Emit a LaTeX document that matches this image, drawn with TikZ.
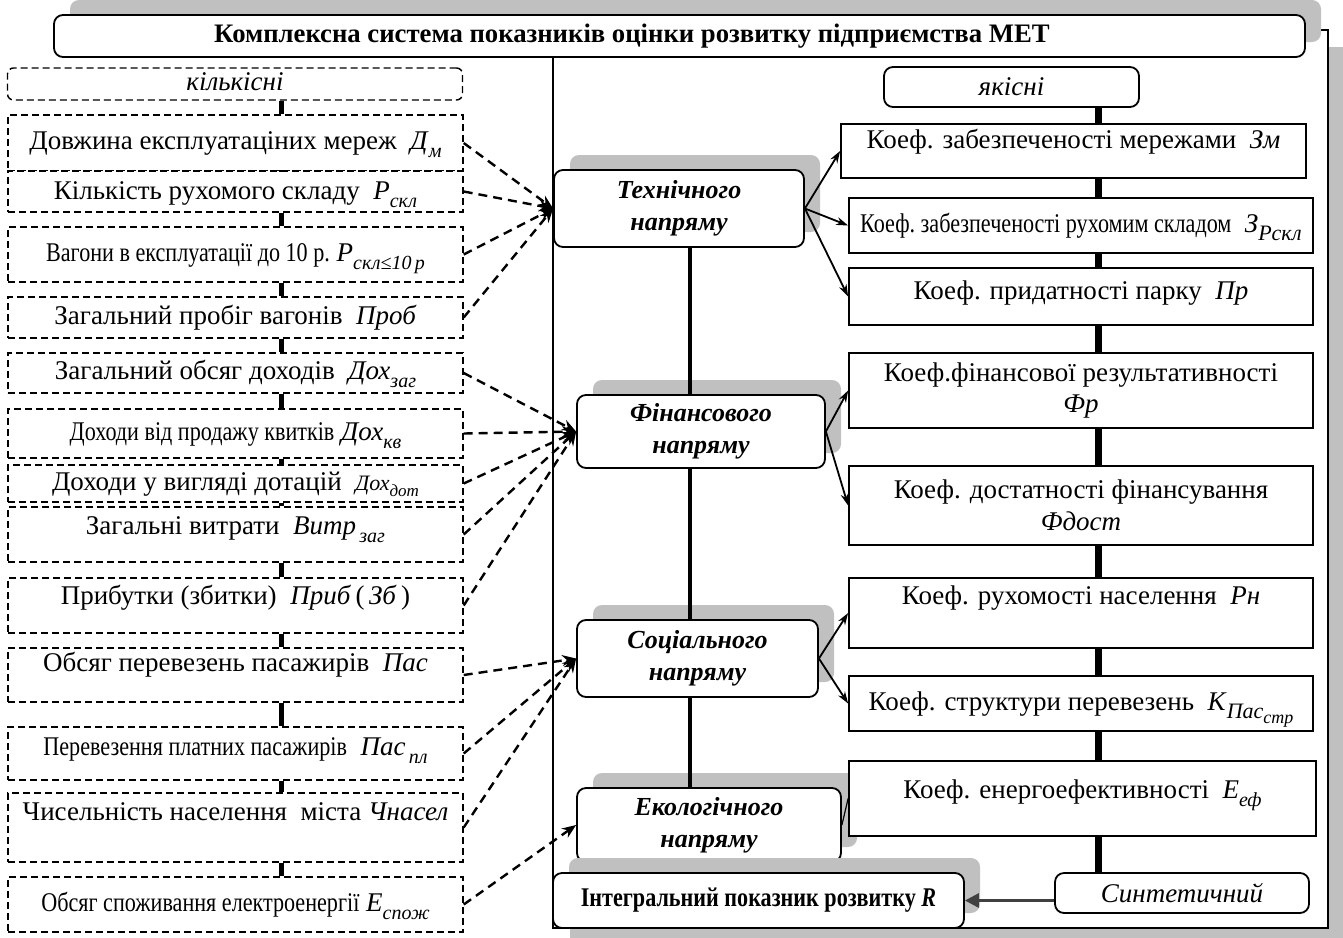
\documentclass[tikz,border=0pt]{standalone}
\usepackage{fontspec}
\setmainfont{Liberation Serif}
\newfontfamily\cnd[FakeStretch=0.82]{Liberation Serif}
\usetikzlibrary{arrows.meta,shadows}
\definecolor{shade}{RGB}{192,192,192}
\newcommand{\pok}[2]{\textit{#1}\raisebox{-0.3em}{\fontsize{20}{20}\selectfont\itshape #2}}

\begin{document}
\begin{tikzpicture}[x=1pt,y=-1pt,
  font=\fontsize{27}{32}\selectfont,
  shd/.style={drop shadow={shadow xshift=16pt,shadow yshift=15pt,fill=shade,opacity=1}},
  rbox/.style={draw,line width=1.8pt,rounded corners=9pt,fill=white,inner sep=0pt},
  qbox/.style={draw,line width=1.4pt,dash pattern=on 7pt off 4pt,fill=white,
               inner sep=0pt,minimum width=455,text height=19,text depth=#1},
  qbox/.default=6,
  kbox/.style={draw,line width=1.8pt,fill=white,inner sep=0pt,minimum width=464,
               text height=19,text depth=#1},
  kbox/.default=6,
  kbox2/.style={draw,line width=1.8pt,fill=white,inner sep=0pt,minimum width=464,align=center},
  dirbox/.style={rbox,shd,font=\fontsize{26}{32}\selectfont\bfseries\itshape,align=center},
  darr/.style={line width=2.4pt,dash pattern=on 9pt off 6pt,-{Stealth[length=14pt,width=11pt]}},
  sarr/.style={line width=1.8pt,-{Stealth[length=12pt,width=8pt]}},
  ]

\useasboundingbox (0,0) rectangle (1343,937);

% frame and title
\node[draw,line width=1.2pt,fill=white,minimum width=775,minimum height=898,inner sep=0pt,
      drop shadow={shadow xshift=17pt,shadow yshift=-17pt,fill=shade,opacity=1}] (frm) at (940.5,479) {};
\node[rbox,shd,minimum width=1251,minimum height=42,font=\fontsize{26.7}{31}\selectfont\bfseries] (title) at (679.5,36)
  {Комплексна система показників оцінки розвитку підприємства МЕТ\hspace*{95pt}};

% quantitative (left)
\node[qbox,rounded corners=6pt,minimum height=32] (q0) at (235,84) {\textit{кількісні}};
\node[qbox,minimum height=56] (q1) at (235.5,143) {Довжина експлуатаціних мереж\ \ \pok{Д}{м}};
\node[qbox=4,minimum height=41] (q2) at (235.5,191.5) {Кількість рухомого складу\ \ \pok{Р}{скл}};
\node[qbox,minimum height=55] (q3) at (235.5,254.5) {{\cnd Вагони в експлуатації до 10 р.}\ \pok{Р}{скл≤10\,р}};
\node[qbox,minimum height=41] (q4) at (235.5,317.5) {Загальний пробіг вагонів\ \ \textit{Проб}};
\node[qbox,minimum height=40] (q5) at (235.5,373) {Загальний обсяг доходів\ \ \pok{Дох}{заг}};
\node[qbox,minimum height=49] (q6) at (235.5,433.5) {{\cnd Доходи від продажу квитків}\ \pok{Дох}{кв}};
\node[qbox,minimum height=37] (q7) at (235.5,483.5)
  {Доходи у вигляді дотацій\ \ {\fontsize{22}{22}\selectfont\textit{Дох}\raisebox{-0.3em}{\fontsize{17}{17}\selectfont\itshape дот}}};
\node[qbox=20,minimum height=55] (q8) at (235.5,534.5) {Загальні витрати\ \ \pok{Витр}{\,заг}};
\node[qbox=22,minimum height=55] (q9) at (235.5,605.5) {Прибутки (збитки)\ \ \textit{Приб}\,(\,\textit{Зб}\,)};
\node[qbox=26,minimum height=54] (q10) at (235.5,675) {Обсяг перевезень пасажирів\ \ \textit{Пас}};
\node[qbox=16,minimum height=53] (q11) at (235.5,753.5) {{\cnd Перевезення платних пасажирів}\ \ \pok{Пас}{\,пл}};
\node[qbox=34,minimum height=69] (q12) at (235.5,827.5) {Чисельність населення\ \ міста \textit{Чнасел}};
\node[qbox,minimum height=55] (q13) at (235.5,904.5) {{\cnd Обсяг споживання електроенергії}\ \pok{Е}{спож}};

% directions
\node[dirbox,minimum width=250,minimum height=77] (tech) at (679,208.5) {Технічного\\напряму};
\node[dirbox,minimum width=248,minimum height=73] (fin) at (701,431.5) {Фінансового\\напряму};
\node[dirbox,minimum width=241,minimum height=77] (soc) at (697.5,658.5) {Соціального\\напряму};
\node[dirbox,minimum width=264,minimum height=74] (eco) at (709,825) {Екологічного\\напряму};
\node[rbox,shd,minimum width=411,minimum height=55] (integr) at (758.5,900.5)
  {\cnd\bfseries Інтегральний показник розвитку \textit{R}};

% qualitative (right)
\node[rbox,minimum width=255,minimum height=40] (qual) at (1011.5,87) {\textit{якісні}};
\node[kbox=24,minimum width=465,minimum height=54] (k1) at (1073.5,151) {Коеф. забезпеченості мережами\ \ \textit{Зм}};
\node[kbox,minimum height=55] (k2) at (1081,225.5)
  {{\cnd Коеф.\ забезпеченості рухомим складом}\ \ \textit{З}\raisebox{-0.3em}{\fontsize{22}{22}\selectfont\itshape Рскл}};
\node[kbox=14,minimum height=57] (k3) at (1081,296.5) {Коеф. придатності парку\ \ \textit{Пр}};
\node[kbox2,minimum height=75] (k4) at (1081,390.5) {Коеф.фінансової результативності\\\textit{Фр}};
\node[kbox2,minimum height=79] (k5) at (1081,505.5) {Коеф. достатності фінансування\\\textit{Фдост}};
\node[kbox=36,minimum height=70] (k6) at (1081,613) {Коеф. рухомості населення\ \ \textit{Рн}};
\node[kbox,minimum height=55] (k7) at (1081,703.5)
  {Коеф. структури перевезень\ \ \textit{К}\raisebox{-0.3em}{\fontsize{22}{22}\selectfont\itshape Пас\raisebox{-0.25em}{\fontsize{18}{18}\selectfont стр}}};
\node[kbox=20,minimum width=467,minimum height=75] (k8) at (1082.5,798.5) {Коеф. енергоефективності\ \ \pok{Е}{еф}};
\node[rbox,minimum width=254,minimum height=40] (synt) at (1182,893) {\textit{Синтетичний}};

% vertical links
\coordinate (ll) at (281,0);
\coordinate (dl) at (690,0);
\coordinate (rl) at (1098,0);
\foreach \a/\b in {q0/q1,q1/q2,q2/q3,q3/q4,q4/q5,q5/q6,q6/q7,q7/q8,q8/q9,q9/q10,q10/q11,q11/q12,q12/q13}
  \draw[line width=5pt] (\a.south -| ll) -- (\b.north -| ll);
\foreach \a/\b in {tech/fin,fin/soc,soc/eco}
  \draw[line width=4pt] (\a.south -| dl) -- (\b.north -| dl);
\foreach \a/\b in {qual/k1,k1/k2,k2/k3,k3/k4,k4/k5,k5/k6,k6/k7,k7/k8,k8/synt}
  \draw[line width=7pt] (\a.south -| rl) -- (\b.north -| rl);

% arrows
\foreach \a/\b in {tech/k1,tech/k2,tech/k3,fin/k4,fin/k5,soc/k6,soc/k7}
  \draw[sarr] (\a.east) -- (\b.west);
\draw[line width=1.2pt] (eco.east) -- (k8.west);
\foreach \a/\b in {q1/tech,q2/tech,q3/tech,q4/tech,q5/fin,q6/fin,q7/fin,q8/fin,q9/fin,q10/soc,q11/soc,q12/soc,q13/eco}
  \draw[darr] (\a.east) -- (\b.west);
\draw[line width=3pt,black!75,-{Triangle[length=14pt,width=14pt]}] (integr.east -| synt.west) -- (integr.east);
\end{tikzpicture}
\end{document}
